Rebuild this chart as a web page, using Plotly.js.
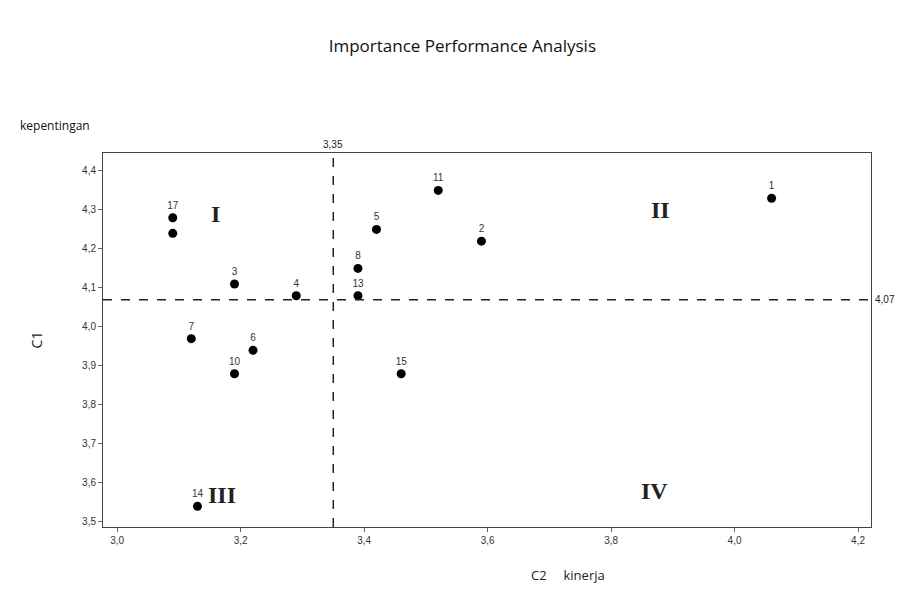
<!DOCTYPE html>
<html><head><meta charset="utf-8">
<script src="https://cdn.plot.ly/plotly-3.0.1.min.js"></script>
<style>html,body{margin:0;padding:0;background:#fff;}#chart{width:903px;height:610px;}</style>
</head><body><div id="chart"></div>
<script>
// Data: kinerja (C2, performance) vs kepentingan (C1, importance)
const itemLabels = ["17", "", "3", "4", "8", "13", "5", "11", "2", "1", "7", "6", "10", "15", "14"];
const kinerja    = [3.09, 3.09, 3.19, 3.29, 3.39, 3.39, 3.42, 3.52, 3.59, 4.06, 3.12, 3.22, 3.19, 3.46, 3.13];
const kepentingan= [4.28, 4.24, 4.11, 4.08, 4.15, 4.08, 4.25, 4.35, 4.22, 4.33, 3.97, 3.94, 3.88, 3.88, 3.54];
const meanKinerja = 3.35;
const meanKepentingan = 4.07;
const quadrantNames = ["I", "II", "III", "IV"];
const quadrantX = [3.16, 3.88, 3.17, 3.87];
const quadrantY = [4.29, 4.30, 3.57, 3.58];
const xTicks = [3.0, 3.2, 3.4, 3.6, 3.8, 4.0, 4.2];
const yTicks = [3.5, 3.6, 3.7, 3.8, 3.9, 4.0, 4.1, 4.2, 4.3, 4.4];

const trace = {
  type: 'scatter', mode: 'markers+text',
  x: kinerja, y: kepentingan, text: itemLabels,
  textposition: 'top center',
  textfont: {family: 'Liberation Sans, Arial', size: 10, color: '#333'},
  marker: {color: '#000', size: 9},
  hoverinfo: 'x+y+text', showlegend: false, cliponaxis: false
};

const annotations = quadrantNames.map((q, i) => ({
  x: quadrantX[i], y: quadrantY[i], xref: 'x', yref: 'y', text: '<b>' + q + '</b>', showarrow: false,
  font: {family: 'Liberation Serif, DejaVu Serif, serif', size: 24, color: '#222'}
}));
annotations.push({x: meanKinerja, y: 1, xref: 'x', yref: 'paper', yanchor: 'bottom', yshift: 1,
  text: String(meanKinerja).replace('.', ','), showarrow: false,
  font: {family: 'Liberation Sans, Arial', size: 10, color: '#222'}});
annotations.push({x: 1, y: meanKepentingan, xref: 'paper', yref: 'y', xanchor: 'left', xshift: 2,
  text: String(meanKepentingan).replace('.', ','), showarrow: false,
  font: {family: 'Liberation Sans, Arial', size: 10, color: '#222'}});
annotations.push({x: -0.111, y: 1.045, xref: 'paper', yref: 'paper', xanchor: 'left', yanchor: 'bottom',
  text: 'kepentingan', showarrow: false,
  font: {family: 'Open Sans, Liberation Sans, Arial', size: 12, color: '#111'}});
annotations.push({x: 0.605, y: -0.1, xref: 'paper', yref: 'paper', xanchor: 'center', yanchor: 'top',
  text: 'C2&nbsp;&nbsp;&nbsp;&nbsp;&nbsp;kinerja', showarrow: false,
  font: {family: 'Open Sans, Liberation Sans, Arial', size: 13, color: '#222'}});

const layout = {
  width: 903, height: 610,
  margin: {l: 103, r: 32, t: 153, b: 83},
  paper_bgcolor: '#fff', plot_bgcolor: '#fff',
  separators: ',.',
  title: {text: 'Importance Performance Analysis', x: 0.512, xanchor: 'center', y: 0.934,
    font: {family: 'Open Sans, Liberation Sans, Arial', size: 17, color: '#111'}},
  xaxis: {range: [2.977, 4.221], tickvals: xTicks, tickformat: '.1f', showgrid: false, zeroline: false,
    showline: true, linecolor: '#444', linewidth: 1, mirror: true, ticks: 'outside', ticklen: 4, tickcolor: '#666',
    tickfont: {family: 'Liberation Sans, Arial', size: 10, color: '#333'}},
  yaxis: {range: [3.487, 4.446], tickvals: yTicks, tickformat: '.1f', showgrid: false, zeroline: false,
    showline: true, linecolor: '#444', linewidth: 1, mirror: true, ticks: 'outside', ticklen: 4, tickcolor: '#666',
    tickfont: {family: 'Liberation Sans, Arial', size: 10, color: '#333'},
    title: {text: 'C1', standoff: 36, font: {family: 'Open Sans, Liberation Sans, Arial', size: 14, color: '#222'}}},
  shapes: [
    {type: 'line', xref: 'x', yref: 'paper', x0: meanKinerja, x1: meanKinerja, y0: 0, y1: 1,
      line: {color: '#222', width: 1.5, dash: 'dash'}},
    {type: 'line', xref: 'paper', yref: 'y', x0: 0, x1: 1, y0: meanKepentingan, y1: meanKepentingan,
      line: {color: '#222', width: 1.5, dash: 'dash'}}
  ],
  annotations: annotations
};

Plotly.newPlot('chart', [trace], layout, {displayModeBar: false, staticPlot: true});
</script>
</body></html>
